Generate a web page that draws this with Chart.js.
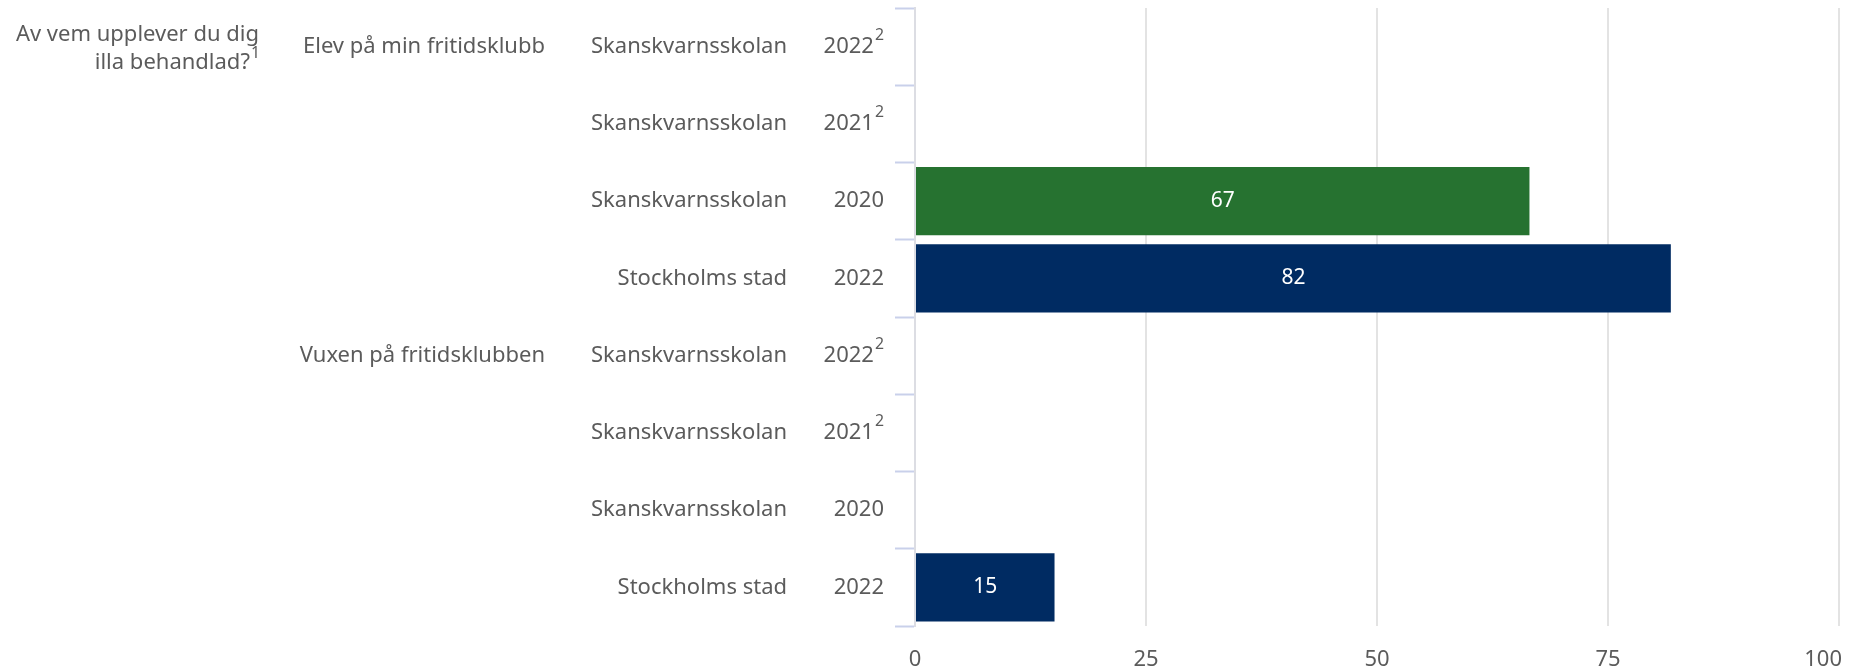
<!DOCTYPE html>
<html lang="sv">
<head>
    <meta charset="UTF-8">
    <title>Av vem upplever du dig illa behandlad?</title>
    <script src="https://cdn.jsdelivr.net/npm/chart.js"></script>
    <style>
        html, body { margin: 0; padding: 0; background: #fff; }
        #wrap { width: 1849px; height: 672px; position: relative; }
    </style>
</head>
<body>
    <div id="wrap"><canvas id="chart"></canvas></div>
    <script>
        // data
        const question = ['Av vem upplever du dig', 'illa behandlad?'];
        const questionNote = '1';
        const groups = ['Elev på min fritidsklubb', '', '', '', 'Vuxen på fritidsklubben', '', '', ''];
        const units = ['Skanskvarnsskolan', 'Skanskvarnsskolan', 'Skanskvarnsskolan', 'Stockholms stad',
                       'Skanskvarnsskolan', 'Skanskvarnsskolan', 'Skanskvarnsskolan', 'Stockholms stad'];
        const years = ['2022', '2021', '2020', '2022', '2022', '2021', '2020', '2022'];
        const yearNotes = ['2', '2', '', '', '2', '2', '', ''];
        const values = [null, null, 66.5, 81.8, null, null, null, 15.1];
        const xTicks = [0, 25, 50, 75, 100];

        const unitColors = { 'Skanskvarnsskolan': '#267230', 'Stockholms stad': '#002b62' };
        const textColor = '#5b5b5b';
        const font = '"Noto Sans", sans-serif';

        // text right-aligned at `right`, with an optional raised note after it
        function drawSup(ctx, text, sup, right, y, size) {
            const supSize = size * 0.72;
            ctx.font = supSize + 'px ' + font;
            const sw = sup ? ctx.measureText(sup).width + 1 : 0;
            ctx.font = size + 'px ' + font;
            ctx.textAlign = 'right';
            ctx.fillText(text, right - sw, y);
            if (sup) {
                ctx.font = supSize + 'px ' + font;
                ctx.textAlign = 'left';
                ctx.fillText(sup, right - sw + 1, y - size * 0.5);
            }
        }

        const labelPlugin = {
            id: 'labels',
            afterDraw(chart) {
                const ctx = chart.ctx;
                const y = chart.scales.y;
                const x = chart.scales.x;
                ctx.save();
                ctx.fillStyle = textColor;

                // question
                ctx.font = '22px ' + font;
                ctx.textAlign = 'right';
                ctx.textBaseline = 'alphabetic';
                ctx.fillText(question[0], 259, 41);
                drawSup(ctx, question[1], questionNote, 260, 69, 22);

                // row labels
                ctx.textBaseline = 'middle';
                units.forEach((u, i) => {
                    const py = y.getPixelForValue(i);
                    ctx.font = '22px ' + font;
                    ctx.textAlign = 'right';
                    if (groups[i]) ctx.fillText(groups[i], 545, py);
                    ctx.fillText(u, 787, py);
                    drawSup(ctx, years[i], yearNotes[i], 884, py, 22);
                });

                // x tick labels
                ctx.font = '22px ' + font;
                xTicks.forEach((t, i) => {
                    const px = x.getPixelForValue(t);
                    const last = i === xTicks.length - 1;
                    ctx.textAlign = last ? 'right' : 'center';
                    ctx.fillText(String(t), last ? px + 3 : px, 660);
                });

                // bar values
                const meta = chart.getDatasetMeta(0);
                ctx.fillStyle = '#fff';
                ctx.font = '21px ' + font;
                ctx.textAlign = 'center';
                meta.data.forEach((bar, i) => {
                    if (values[i] == null) return;
                    const c = bar.getCenterPoint();
                    ctx.fillText(String(Math.round(values[i])), c.x, c.y);
                });
                ctx.restore();
            }
        };

        new Chart(document.getElementById('chart'), {
            type: 'bar',
            data: {
                labels: units.map((u, i) => u + ' ' + years[i]),
                datasets: [{
                    data: values,
                    backgroundColor: units.map(u => unitColors[u]),
                    barPercentage: 0.885,
                    categoryPercentage: 1
                }]
            },
            options: {
                indexAxis: 'y',
                responsive: true,
                maintainAspectRatio: false,
                animation: false,
                layout: { padding: { top: 8, right: 10, left: 0, bottom: 0 } },
                plugins: { legend: { display: false }, tooltip: { enabled: false } },
                scales: {
                    x: {
                        min: 0,
                        max: 100,
                        ticks: { stepSize: 25, display: false },
                        grid: {
                            color: ctx => ctx.tick && ctx.tick.value === 0 ? 'rgba(0,0,0,0)' : '#e3e3e3',
                            lineWidth: 2,
                            drawTicks: false
                        },
                        border: { display: false },
                        afterFit: s => { s.height = 46; s.paddingLeft = 0; s.paddingRight = 0; }
                    },
                    y: {
                        ticks: { display: false },
                        grid: {
                            offset: true,
                            drawOnChartArea: false,
                            drawTicks: true,
                            tickLength: 20,
                            tickColor: '#c9d0ea',
                            tickWidth: 2
                        },
                        border: { display: true, color: '#dcdde3', width: 2 },
                        afterFit: s => { s.width = 915; }
                    }
                }
            },
            plugins: [labelPlugin]
        });
    </script>
</body>
</html>
